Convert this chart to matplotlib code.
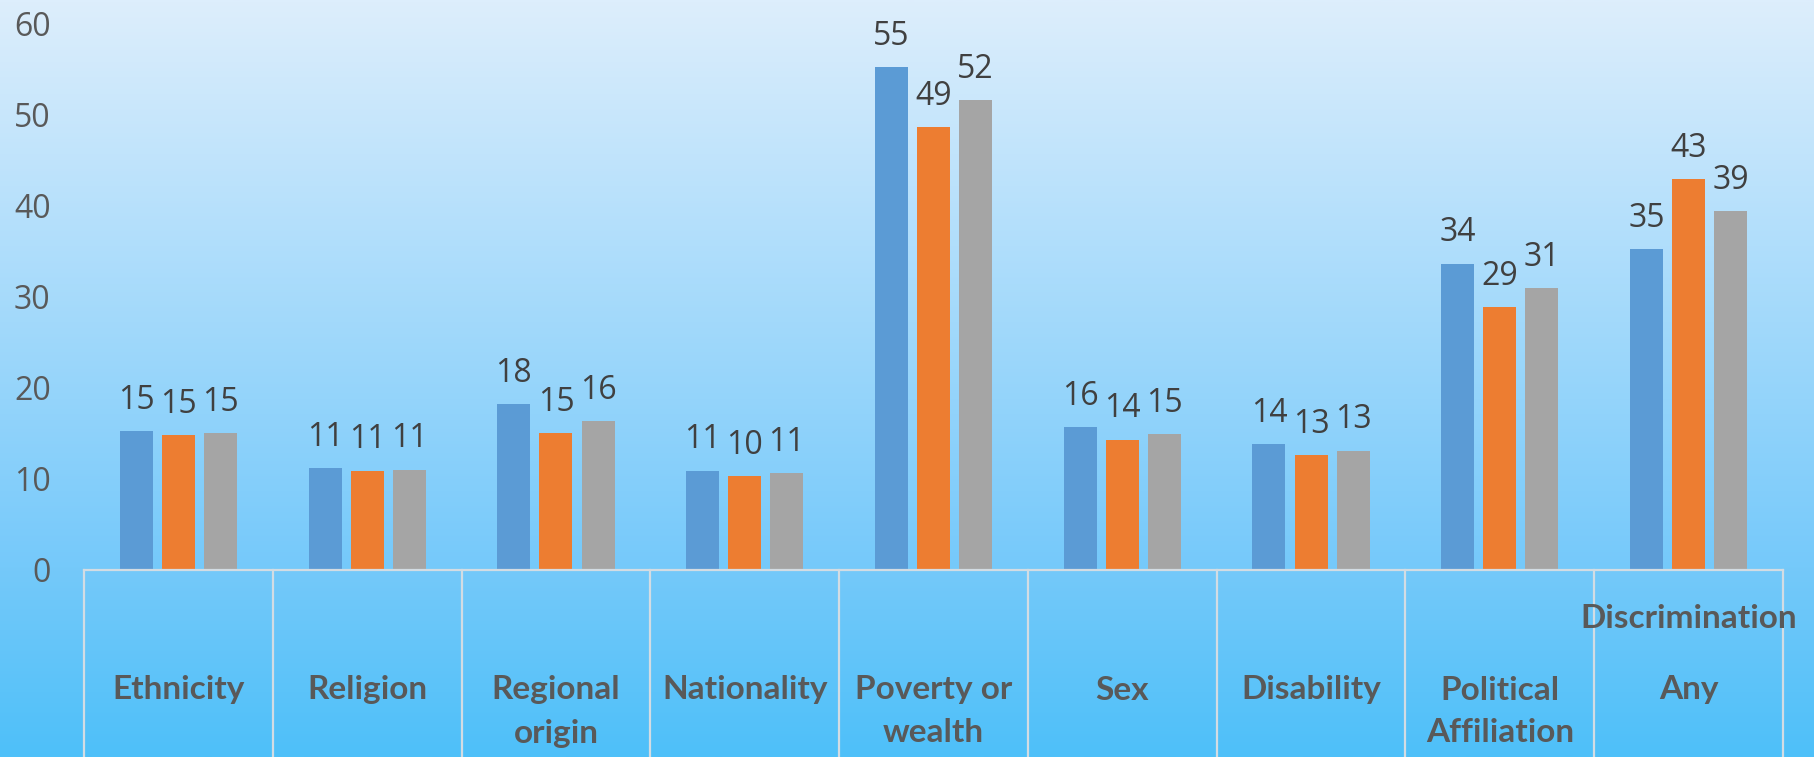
import numpy as np
import matplotlib
matplotlib.use("Agg")
import matplotlib.pyplot as plt
from matplotlib.colors import LinearSegmentedColormap

categories = ["Ethnicity", "Religion", "Regional\norigin", "Nationality", "Poverty or\nwealth",
              "Sex", "Disability", "Political\nAffiliation", "Any Discrimination"]
series_a = [15.2, 11.2, 18.2, 10.9, 55.2, 15.7, 13.8, 33.6, 35.2]
series_b = [14.8, 10.9, 15.0, 10.3, 48.6, 14.3, 12.6, 28.8, 42.9]
series_c = [15.0, 11.0, 16.3, 10.6, 51.5, 14.9, 13.1, 30.9, 39.4]
yticks = [0, 10, 20, 30, 40, 50, 60]

colors = ["#5B9BD5", "#ED7D31", "#A5A5A5"]

W, H = 1814, 757
fig = plt.figure(figsize=(W / 100, H / 100), dpi=100)

# gradient background
bg = fig.add_axes([0, 0, 1, 1], zorder=-10)
cmap = LinearSegmentedColormap.from_list("bgc", [(0.0, "#DDEEFC"), (0.75, "#75C9FA"), (1.0, "#4EC0F9")])
grad = np.linspace(0, 1, 512).reshape(-1, 1)
bg.imshow(grad, aspect="auto", cmap=cmap, extent=[0, 1, 0, 1], origin="upper")
bg.set_axis_off()

left, right, top, zero = 84, 1783, 23, 570
ax = fig.add_axes([left / W, (H - zero) / H, (right - left) / W, (zero - top) / H])
ax.patch.set_alpha(0)

x = np.arange(len(categories))
bw = 0.175
step = 0.223
for i, (vals, c) in enumerate(zip([series_a, series_b, series_c], colors)):
    xs = x + (i - 1) * step
    ax.bar(xs, vals, width=bw, color=c, zorder=3)
    for xi, v in zip(xs, vals):
        ax.annotate(f"{v:.0f}", (xi, v), xytext=(0, 16), textcoords="offset points",
                    ha="center", va="baseline", fontsize=23, family="Open Sans", color="#404040")

ax.set_xlim(-0.5, len(categories) - 0.5)
ax.set_ylim(0, 60)
ax.set_yticks(yticks)
ax.set_yticklabels([str(t) for t in yticks], fontsize=23, family="Open Sans", color="#595959")
ax.tick_params(axis="y", length=0, pad=24)
ax.set_xticks([])
for s in ax.spines.values():
    s.set_visible(False)

# category cell lines
gridc = "#D3DCE3"
tr = ax.get_xaxis_transform()
bottom_ax = -(H - zero) / (zero - top) - 0.01
ax.plot([-0.5, len(categories) - 0.5], [0, 0], transform=tr, color=gridc, lw=1.6, clip_on=False, zorder=4)
for b in np.arange(len(categories) + 1) - 0.5:
    ax.plot([b, b], [0, bottom_ax], transform=tr, color=gridc, lw=1.6, clip_on=False)

px = 1.0 / (zero - top)
line1 = -(690 - zero) * px
line2 = -(733 - zero) * px
for xi, lab in zip(x, categories):
    if lab == "Any Discrimination":
        ax.text(xi, -(618 - zero) * px, "Discrimination", transform=tr, ha="center", va="center",
                fontsize=24, fontweight="bold", family="Lato", color="#595959")
        ax.text(xi, line1, "Any", transform=tr, ha="center", va="center",
                fontsize=24, fontweight="bold", family="Lato", color="#595959")
        continue
    for j, ln in enumerate(lab.split("\n")):
        ax.text(xi, line1 if j == 0 else line2, ln, transform=tr, ha="center", va="center",
                fontsize=24, fontweight="bold", family="Lato", color="#595959")

fig.savefig("out.png", dpi=100)
